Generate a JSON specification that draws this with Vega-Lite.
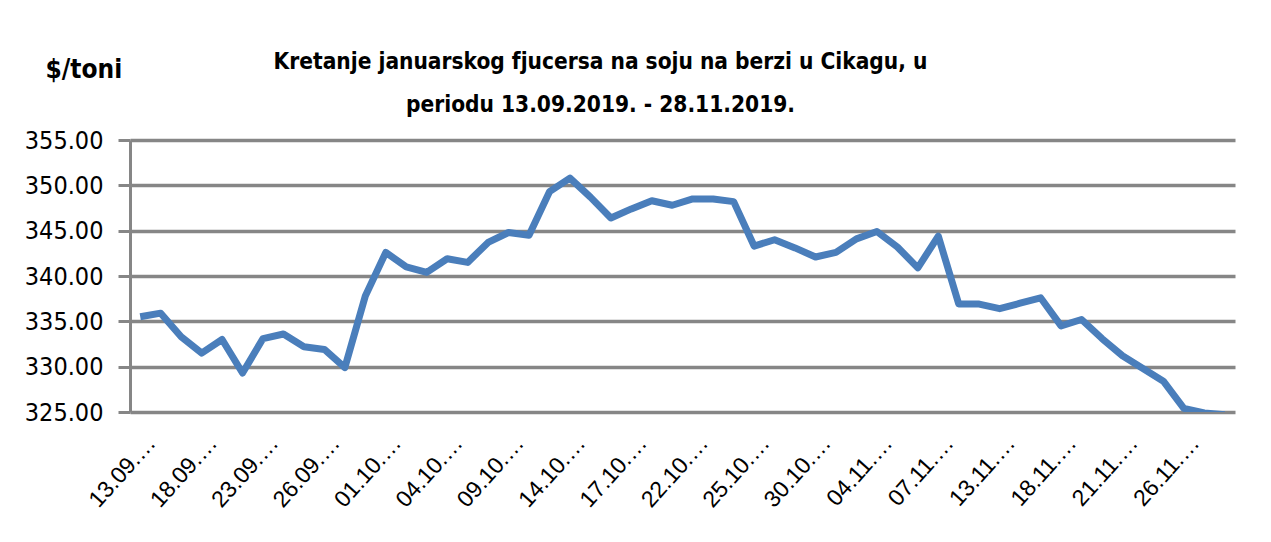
{
  "$schema": "https://vega.github.io/schema/vega-lite/v6.json",
  "width": 1105,
  "height": 272,
  "autosize": {"type": "none"},
  "padding": {"left": 130, "top": 140, "right": 36, "bottom": 130},
  "background": "white",
  "title": {
    "text": ["Kretanje januarskog  fjucersa na soju na berzi u Cikagu,  u", "periodu  13.09.2019. - 28.11.2019."],
    "font": "Liberation Sans Narrow, DejaVu Sans Condensed, sans-serif",
    "fontSize": 22.5,
    "fontWeight": "bold",
    "color": "black",
    "lineHeight": 43,
    "anchor": "middle",
    "frame": "group",
    "dx": -82,
    "dy": 80,
    "offset": 20
  },
  "data": {
    "values": [
      {"date": "13.09.2019.", "price": 335.5},
      {"date": "16.09.2019.", "price": 335.9},
      {"date": "17.09.2019.", "price": 333.3},
      {"date": "18.09.2019.", "price": 331.5},
      {"date": "19.09.2019.", "price": 333.0},
      {"date": "20.09.2019.", "price": 329.3},
      {"date": "23.09.2019.", "price": 333.1},
      {"date": "24.09.2019.", "price": 333.6},
      {"date": "25.09.2019.", "price": 332.2},
      {"date": "26.09.2019.", "price": 331.9},
      {"date": "27.09.2019.", "price": 329.9},
      {"date": "30.09.2019.", "price": 337.8},
      {"date": "01.10.2019.", "price": 342.6},
      {"date": "02.10.2019.", "price": 341.0},
      {"date": "03.10.2019.", "price": 340.4},
      {"date": "04.10.2019.", "price": 341.9},
      {"date": "07.10.2019.", "price": 341.5},
      {"date": "08.10.2019.", "price": 343.7},
      {"date": "09.10.2019.", "price": 344.8},
      {"date": "10.10.2019.", "price": 344.5},
      {"date": "11.10.2019.", "price": 349.3},
      {"date": "14.10.2019.", "price": 350.8},
      {"date": "15.10.2019.", "price": 348.7},
      {"date": "16.10.2019.", "price": 346.4},
      {"date": "17.10.2019.", "price": 347.4},
      {"date": "18.10.2019.", "price": 348.3},
      {"date": "21.10.2019.", "price": 347.8},
      {"date": "22.10.2019.", "price": 348.5},
      {"date": "23.10.2019.", "price": 348.5},
      {"date": "24.10.2019.", "price": 348.2},
      {"date": "25.10.2019.", "price": 343.3},
      {"date": "28.10.2019.", "price": 344.0},
      {"date": "29.10.2019.", "price": 343.1},
      {"date": "30.10.2019.", "price": 342.1},
      {"date": "31.10.2019.", "price": 342.6},
      {"date": "01.11.2019.", "price": 344.1},
      {"date": "04.11.2019.", "price": 344.9},
      {"date": "05.11.2019.", "price": 343.2},
      {"date": "06.11.2019.", "price": 340.9},
      {"date": "07.11.2019.", "price": 344.4},
      {"date": "08.11.2019.", "price": 336.9},
      {"date": "11.11.2019.", "price": 336.9},
      {"date": "13.11.2019.", "price": 336.4},
      {"date": "14.11.2019.", "price": 337.0},
      {"date": "15.11.2019.", "price": 337.6},
      {"date": "18.11.2019.", "price": 334.5},
      {"date": "19.11.2019.", "price": 335.2},
      {"date": "20.11.2019.", "price": 333.1},
      {"date": "21.11.2019.", "price": 331.2},
      {"date": "22.11.2019.", "price": 329.8},
      {"date": "25.11.2019.", "price": 328.4},
      {"date": "26.11.2019.", "price": 325.4},
      {"date": "27.11.2019.", "price": 324.9},
      {"date": "28.11.2019.", "price": 324.7}
    ]
  },
  "mark": {"type": "line", "color": "#4a7ebb", "strokeWidth": 7, "strokeJoin": "round", "strokeCap": "butt", "clip": true},
  "encoding": {
    "x": {
      "field": "date",
      "type": "ordinal",
      "sort": null,
      "scale": {"type": "point", "padding": 0.5},
      "axis": {
        "title": null,
        "values": ["13.09.2019.", "18.09.2019.", "23.09.2019.", "26.09.2019.", "01.10.2019.", "04.10.2019.", "09.10.2019.", "14.10.2019.", "17.10.2019.", "22.10.2019.", "25.10.2019.", "30.10.2019.", "04.11.2019.", "07.11.2019.", "13.11.2019.", "18.11.2019.", "21.11.2019.", "26.11.2019."],
        "labelExpr": "substring(datum.value, 0, 6) + '…'",
        "labelAngle": -48,
        "labelAlign": "right",
        "labelBaseline": "middle",
        "labelFont": "Liberation Sans, Arial, sans-serif",
        "labelFontSize": 23,
        "labelColor": "black",
        "labelPadding": 27,
        "labelOffset": 11,
        "labelLimit": 200,
        "labelOverlap": false,
        "ticks": false,
        "tickSize": 0,
        "domain": false,
        "grid": false
      }
    },
    "y": {
      "field": "price",
      "type": "quantitative",
      "scale": {"domain": [325, 355], "nice": false, "zero": false},
      "axis": {
        "title": "$/toni",
        "titleAngle": 0,
        "titleAlign": "left",
        "titleBaseline": "alphabetic",
        "titleX": -85,
        "titleY": -63,
        "titleFont": "Liberation Sans Narrow, DejaVu Sans Condensed, sans-serif",
        "titleFontSize": 26,
        "titleFontWeight": "bold",
        "titleColor": "black",
        "values": [325, 330, 335, 340, 345, 350, 355],
        "format": ".2f",
        "labelFont": "Liberation Sans Narrow, DejaVu Sans Condensed, sans-serif",
        "labelFontSize": 25,
        "labelColor": "black",
        "labelPadding": 15,
        "labelBaseline": "middle",
        "tickSize": 12,
        "tickColor": "#868686",
        "tickWidth": 3,
        "domainColor": "#868686",
        "domainWidth": 3,
        "grid": true,
        "gridColor": "#868686",
        "gridWidth": 3.5,
        "gridOpacity": 1
      }
    }
  },
  "config": {"view": {"stroke": null}}
}
